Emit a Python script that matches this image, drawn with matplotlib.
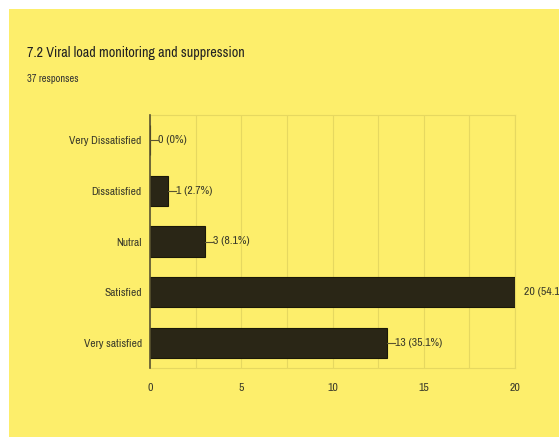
import matplotlib.pyplot as plt
import matplotlib.patches as mpatches

plt.rcParams['font.family'] = ['Archivo Narrow', 'DejaVu Sans']

categories = ["Very Dissatisfied", "Dissatisfied", "Nutral", "Satisfied", "Very satisfied"]
counts = [0, 1, 3, 20, 13]
labels = ["0 (0%)", "1 (2.7%)", "3 (8.1%)", "20 (54.1%)", "13 (35.1%)"]

bg = "#fdee6b"
bar_col = "#2a2616"
txt_col = "#3a3a2a"
faint = "#e6d860"

fig = plt.figure(figsize=(5.59, 4.37), dpi=100)
fig.patch.set_facecolor("white")
fig.patches.append(mpatches.Rectangle((9 / 559, 0), 1, 1 - 9 / 437, transform=fig.transFigure,
                                      facecolor=bg, edgecolor="none", zorder=-10))

ax = fig.add_axes([150 / 559, 1 - 368 / 437, 365 / 559, 253 / 437])
ax.set_facecolor(bg)
pos = list(range(len(categories)))
ax.barh(pos, counts, height=0.6, color=bar_col, edgecolor="#1a1808", linewidth=0.8, zorder=3)
ax.set_ylim(len(categories) - 0.5, -0.5)
ax.set_xlim(0, 20)
ax.set_yticks(pos)
ax.set_yticklabels(categories, fontsize=8.3, color=txt_col)
ax.set_xticks([0, 5, 10, 15, 20])
ax.set_xticks([2.5, 7.5, 12.5, 17.5], minor=True)
ax.tick_params(axis="x", which="both", length=0, labelsize=8.5, labelcolor=txt_col, pad=11)
ax.tick_params(axis="y", length=0, pad=6)
ax.grid(axis="x", which="both", color=faint, linewidth=0.8, zorder=0)
for s in ["top", "right", "bottom"]:
    ax.spines[s].set_color(faint)
    ax.spines[s].set_linewidth(0.8)
ax.spines["left"].set_color("#5a5430")
ax.spines["left"].set_linewidth(1.2)
ax.spines["left"].set_zorder(4)

for i, (c, lab) in enumerate(zip(counts, labels)):
    if c < 20:
        ax.plot([c, c + 0.45], [i, i], color="#5a5430", linewidth=0.8, clip_on=False, zorder=4)
        ax.text(c + 0.45, i, lab, va="center", ha="left", fontsize=8.5, color=txt_col, clip_on=False)
    else:
        ax.text(c + 0.5, i, lab, va="center", ha="left", fontsize=8.5, color=txt_col, clip_on=False)

fig.text(27 / 559, 1 - 53 / 437, "7.2 Viral load monitoring and suppression", fontsize=10.2,
         color="#222222", va="center", ha="left")
fig.text(27 / 559, 1 - 79 / 437, "37 responses", fontsize=7.5, color="#333333", va="center", ha="left")

fig.savefig("out.png", dpi=100, facecolor=fig.get_facecolor())
